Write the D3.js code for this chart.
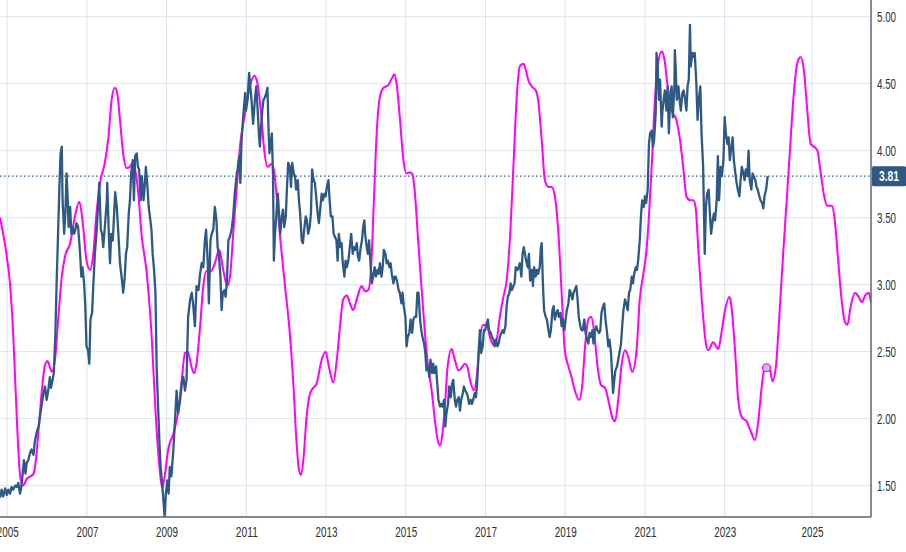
<!DOCTYPE html>
<html>
<head>
<meta charset="utf-8">
<script src="https://cdn.jsdelivr.net/npm/d3@7/dist/d3.min.js"></script>
<style>
  html, body { margin: 0; padding: 0; background: #ffffff; }
  svg { display: block; }
  .lbl { font-family: "Liberation Sans", Arial, sans-serif; font-size: 14.5px; fill: #2f2f2f; }
</style>
</head>
<body>
<svg id="chart" width="906" height="552"></svg>
<script>
// ---------------- DATA ----------------
const yearTicks = [2005, 2007, 2009, 2011, 2013, 2015, 2017, 2019, 2021, 2023, 2025];
const priceTicks = [1.5, 2.0, 2.5, 3.0, 3.5, 4.0, 4.5, 5.0];

const blueDates = [
2004.82,2004.86,2004.90,2004.95,2004.99,2005.03,2005.07,2005.11,2005.15,2005.20,2005.24,2005.28,2005.32,2005.35,2005.39,2005.42,2005.46,2005.49,2005.53,2005.57,2005.61,2005.66,2005.69,2005.72,2005.76,2005.79,2005.82,2005.87,2005.91,2005.95,2005.99,2006.03,2006.07,2006.10,2006.14,2006.17,2006.21,2006.24,2006.27,2006.31,2006.34,2006.37,2006.39,2006.43,2006.46,2006.49,2006.52,2006.54,2006.58,2006.61,2006.64,2006.68,2006.71,2006.74,2006.78,2006.83,2006.86,2006.89,2006.93,2006.96,2006.99,2007.03,2007.06,2007.09,2007.13,2007.16,2007.20,2007.24,2007.28,2007.31,2007.35,2007.38,2007.41,2007.45,2007.50,2007.51,2007.55,2007.58,2007.61,2007.65,2007.68,2007.71,2007.75,2007.79,2007.83,2007.87,2007.91,2007.95,2007.98,2008.01,2008.05,2008.08,2008.11,2008.15,2008.18,2008.21,2008.25,2008.28,2008.31,2008.35,2008.38,2008.42,2008.45,2008.48,2008.52,2008.55,2008.58,2008.62,2008.65,2008.68,2008.72,2008.75,2008.78,2008.82,2008.85,2008.88,2008.92,2008.95,2008.98,2009.02,2009.05,2009.08,2009.12,2009.15,2009.18,
2009.25,2009.29,2009.34,2009.38,2009.42,2009.46,2009.50,2009.54,2009.59,2009.63,2009.67,2009.71,2009.75,2009.80,2009.84,2009.88,2009.92,2009.96,2009.99,2010.03,2010.06,2010.10,2010.13,2010.17,2010.21,2010.25,2010.28,2010.31,2010.35,2010.38,2010.41,2010.45,2010.48,2010.51,2010.55,2010.59,2010.63,2010.67,2010.71,2010.76,2010.78,2010.82,2010.85,2010.88,2010.92,2010.97,2010.99,2011.03,2011.07,2011.10,2011.13,2011.17,2011.19,2011.22,2011.25,2011.28,2011.32,2011.34,2011.37,2011.40,2011.43,2011.47,2011.50,2011.53,2011.56,2011.58,2011.62,2011.64,2011.67,2011.69,2011.72,2011.75,2011.79,2011.82,2011.85,2011.89,2011.92,2011.95,2011.99,2012.02,2012.05,2012.09,2012.12,2012.15,2012.19,2012.22,2012.25,2012.29,2012.32,2012.35,2012.39,2012.42,2012.45,2012.49,2012.52,2012.55,2012.59,2012.62,2012.65,2012.69,2012.72,2012.76,2012.79,2012.82,2012.86,2012.89,2012.92,2012.96,2012.99,2013.02,2013.06,2013.09,2013.12,2013.16,2013.19,2013.22,2013.26,2013.29,2013.32,2013.36,2013.39,2013.42,2013.46,2013.49,2013.52,2013.56,
2013.63,2013.67,2013.70,2013.73,2013.77,2013.80,2013.83,2013.87,2013.90,2013.93,2013.96,2013.98,2014.02,2014.05,2014.08,2014.12,2014.15,2014.19,2014.22,2014.25,2014.29,2014.32,2014.35,2014.39,2014.42,2014.45,2014.49,2014.52,2014.55,2014.59,2014.62,2014.65,2014.69,2014.72,2014.75,2014.79,2014.82,2014.85,2014.89,2014.92,2014.95,2014.99,2015.02,2015.05,2015.09,2015.12,2015.16,2015.19,2015.22,2015.26,2015.29,2015.32,2015.36,2015.39,2015.42,2015.46,2015.49,2015.52,2015.56,2015.59,2015.62,2015.66,2015.69,2015.72,2015.76,2015.79,2015.82,2015.86,2015.89,2015.92,2015.96,2015.99,2016.02,2016.06,2016.09,2016.13,2016.16,2016.19,2016.23,2016.26,2016.29,2016.33,2016.36,2016.39,2016.43,2016.46,2016.49,2016.53,2016.56,2016.59,2016.63,2016.66,2016.69,2016.73,2016.76,2016.79,2016.83,2016.86,2016.89,2016.93,2016.96,2016.99,2017.03,2017.06,2017.09,2017.13,2017.16,2017.20,2017.23,2017.26,2017.30,2017.33,2017.36,2017.40,2017.43,2017.46,2017.50,2017.53,2017.56,2017.60,2017.63,2017.66,2017.70,2017.73,2017.76,2017.80,2017.83,2017.86,2017.90,2017.93,2017.96,
2018.02,2018.06,2018.09,2018.12,2018.16,2018.19,2018.22,2018.26,2018.29,2018.32,2018.36,2018.39,2018.41,2018.44,2018.47,2018.51,2018.54,2018.58,2018.61,2018.64,2018.68,2018.71,2018.74,2018.78,2018.81,2018.84,2018.88,2018.91,2018.94,2018.98,2019.01,2019.04,2019.08,2019.11,2019.14,2019.18,2019.21,2019.24,2019.28,2019.31,2019.34,2019.38,2019.41,2019.44,2019.48,2019.51,2019.55,2019.58,2019.61,2019.65,2019.68,2019.71,2019.75,2019.78,2019.81,2019.85,2019.88,2019.91,2019.95,2019.98,2020.01,2020.05,2020.08,2020.11,2020.15,2020.18,2020.20,2020.23,2020.26,2020.30,2020.33,2020.36,2020.40,2020.43,2020.46,2020.50,2020.53,2020.57,2020.60,2020.63,2020.67,2020.70,2020.73,2020.77,2020.80,2020.83,2020.87,2020.90,2020.93,2020.97,2021.00,2021.03,2021.07,2021.10,2021.13,2021.17,2021.20,2021.23,2021.27,2021.29,2021.32,2021.35,2021.38,2021.42,2021.44,2021.47,2021.50,2021.54,2021.57,2021.60,2021.64,2021.67,2021.70,2021.74,2021.75,2021.77,2021.80,2021.84,2021.87,2021.90,2021.94,2021.97,2022.00,2022.04,2022.07,2022.10,2022.13,2022.15,2022.19,2022.22,2022.25,2022.29,2022.32,2022.35,2022.39,2022.42,2022.46,
2022.50,2022.53,2022.56,2022.60,2022.63,2022.66,2022.70,2022.73,2022.76,2022.80,2022.83,2022.86,2022.90,2022.93,2022.97,2023.00,2023.03,2023.07,2023.10,2023.13,2023.17,2023.20,2023.23,2023.27,2023.30,2023.33,2023.37,2023.40,2023.43,2023.47,2023.50,2023.53,2023.57,2023.60,2023.63,2023.67,2023.70,2023.73,2023.77,2023.80,2023.83,2023.87,2023.90,2023.94,2023.97,2024.00,2024.04,2024.08
];
const blueValues = [
1.41,1.47,1.42,1.48,1.43,1.47,1.44,1.49,1.47,1.50,1.49,1.52,1.44,1.48,1.59,1.69,1.59,1.67,1.69,1.74,1.77,1.73,1.82,1.87,1.92,1.94,2.01,2.11,2.19,2.24,2.14,2.21,2.31,2.23,2.29,2.34,2.64,3.01,3.31,3.73,3.98,4.03,3.63,3.38,3.53,3.83,3.63,3.43,3.58,3.38,3.43,3.38,3.41,3.46,3.43,3.23,3.06,3.13,3.01,2.84,2.54,2.51,2.41,2.74,2.79,2.99,3.23,3.38,3.58,3.76,3.41,3.38,3.28,3.43,3.63,3.76,3.38,3.16,3.38,3.33,3.51,3.69,3.58,3.38,3.16,3.06,2.94,3.06,3.23,3.28,3.53,3.63,3.83,3.93,3.63,3.96,3.98,3.88,3.86,3.63,3.81,3.63,3.73,3.88,3.73,3.58,3.51,3.41,3.23,3.13,2.94,2.39,2.14,1.82,1.64,1.54,1.39,1.27,1.44,1.54,1.44,1.64,1.57,1.69,1.82,
2.21,2.04,2.14,2.26,2.31,2.21,2.29,2.76,2.89,2.94,2.84,2.69,2.99,2.96,3.08,3.16,3.13,3.33,3.41,3.18,2.86,3.33,3.38,3.41,3.58,3.48,3.28,3.23,3.06,2.81,2.94,2.96,2.91,3.01,3.33,3.36,3.41,3.51,3.68,3.83,3.86,3.96,3.76,4.08,4.25,4.43,4.30,4.38,4.58,4.48,4.38,4.20,4.28,4.40,4.48,4.33,4.10,4.03,4.18,4.30,4.38,4.40,4.43,4.47,4.13,3.98,4.08,4.13,3.81,3.18,3.38,3.51,3.68,3.53,3.38,3.51,3.56,3.43,3.51,3.73,3.91,3.88,3.73,3.91,3.83,3.81,3.71,3.78,3.63,3.53,3.33,3.31,3.41,3.51,3.48,3.38,3.43,3.53,3.86,3.78,3.76,3.63,3.53,3.46,3.58,3.68,3.63,3.68,3.66,3.73,3.78,3.63,3.51,3.51,3.38,3.36,3.33,3.18,3.38,3.28,3.31,3.16,3.06,3.18,3.13,3.18,
3.38,3.23,3.28,3.26,3.31,3.21,3.18,3.28,3.33,3.43,3.48,3.38,3.28,3.23,3.33,3.13,3.01,3.08,3.13,3.06,3.11,3.08,3.16,3.06,3.13,3.26,3.23,3.16,3.18,3.13,3.16,3.08,3.01,3.06,3.06,3.01,2.96,2.94,2.86,2.94,2.84,2.76,2.54,2.61,2.64,2.74,2.64,2.74,2.76,2.76,2.94,2.94,2.74,2.66,2.61,2.56,2.49,2.36,2.39,2.31,2.44,2.34,2.41,2.34,2.39,2.26,2.14,2.09,2.11,2.09,2.14,1.94,2.04,2.11,2.24,2.16,2.26,2.29,2.14,2.09,2.14,2.16,2.06,2.14,2.19,2.24,2.21,2.19,2.16,2.11,2.14,2.11,2.14,2.19,2.16,2.26,2.51,2.66,2.49,2.54,2.66,2.66,2.71,2.74,2.66,2.64,2.61,2.59,2.54,2.59,2.54,2.56,2.61,2.64,2.66,2.64,2.69,2.84,2.91,2.94,3.01,2.96,2.99,3.01,3.13,3.11,3.13,3.16,3.06,3.23,3.28,
3.18,3.13,3.23,3.03,3.11,2.99,3.13,3.06,3.11,3.08,3.13,3.28,3.31,3.01,2.81,2.76,2.74,2.66,2.61,2.66,2.81,2.84,2.74,2.79,2.81,2.76,2.79,2.69,2.74,2.66,2.74,2.81,2.86,2.96,2.94,2.89,2.94,2.96,2.99,2.89,2.76,2.69,2.66,2.66,2.74,2.64,2.59,2.56,2.64,2.61,2.66,2.56,2.66,2.69,2.66,2.64,2.66,2.79,2.84,2.86,2.74,2.64,2.54,2.59,2.49,2.31,2.19,2.29,2.36,2.39,2.44,2.49,2.56,2.69,2.81,2.89,2.86,2.81,2.94,2.96,3.06,3.01,3.08,3.13,3.11,3.18,3.33,3.51,3.63,3.58,3.66,3.61,3.71,4.05,4.13,4.15,4.03,4.08,4.28,4.73,4.63,4.38,4.53,4.18,4.30,4.38,4.45,4.30,4.48,4.13,4.43,4.48,4.25,4.48,4.75,4.63,4.38,4.48,4.38,4.30,4.43,4.45,4.40,4.30,4.48,4.53,4.94,4.63,4.73,4.70,4.73,4.50,4.23,4.38,4.48,4.13,3.88,
3.23,3.58,3.68,3.71,3.53,3.38,3.48,3.53,3.48,3.63,3.96,3.63,3.88,3.81,3.93,4.25,4.13,4.05,4.10,3.93,4.03,4.10,3.93,3.83,3.76,3.71,3.66,3.78,3.88,3.83,3.78,3.86,3.81,4.00,3.78,3.71,3.83,3.81,3.78,3.73,3.71,3.66,3.63,3.61,3.57,3.66,3.71,3.81
];

const magentaDates = [
2004.82,2004.99,2005.07,2005.15,2005.24,2005.32,2005.39,2005.49,2005.66,2005.72,2005.78,2005.87,2005.95,2006.01,2006.12,2006.20,2006.28,2006.37,2006.45,2006.58,2006.70,2006.81,2006.89,2006.99,2007.08,2007.16,2007.24,2007.33,2007.45,2007.54,2007.62,2007.70,2007.76,2007.83,2007.91,2008.00,2008.08,2008.15,2008.21,2008.29,2008.37,2008.50,2008.62,2008.73,2008.82,2008.89,2008.96,2009.04,2009.17,2009.29,
2009.38,2009.46,2009.53,2009.63,2009.69,2009.75,2009.84,2009.92,2010.00,2010.11,2010.21,2010.32,2010.42,2010.52,2010.59,2010.67,2010.76,2010.84,2010.97,2011.09,2011.20,2011.28,2011.37,2011.45,2011.53,2011.63,2011.69,2011.76,2011.84,2011.97,2012.09,2012.18,2012.26,2012.32,2012.37,2012.43,2012.51,2012.60,2012.68,2012.76,2012.89,2012.99,2013.07,2013.18,2013.27,2013.35,2013.43,2013.52,2013.60,
2013.68,2013.77,2013.89,2013.98,2014.06,2014.14,2014.20,2014.27,2014.35,2014.44,2014.56,2014.65,2014.71,2014.77,2014.85,2014.94,2015.02,2015.10,2015.17,2015.23,2015.31,2015.40,2015.48,2015.56,2015.65,2015.73,2015.80,2015.86,2015.92,2015.98,2016.05,2016.15,2016.23,2016.32,2016.40,2016.48,2016.54,2016.61,2016.71,2016.79,2016.86,2016.94,2017.03,2017.11,2017.20,2017.28,2017.36,2017.45,2017.53,2017.61,2017.70,2017.78,2017.86,2017.95,2018.03,
2018.07,2018.16,2018.26,2018.32,2018.41,2018.49,2018.58,2018.66,2018.74,2018.83,2018.91,2018.99,2019.08,2019.16,2019.24,2019.35,2019.43,2019.49,2019.58,2019.65,2019.73,2019.81,2019.90,2020.00,2020.08,2020.18,2020.25,2020.33,2020.41,2020.50,2020.58,2020.68,2020.79,2020.87,2020.96,2021.04,2021.10,2021.17,2021.25,2021.33,2021.42,2021.49,2021.57,2021.67,2021.79,2021.88,2021.96,2022.04,2022.13,2022.21,2022.27,2022.34,
2022.46,2022.53,2022.59,2022.71,2022.84,2022.92,2023.01,2023.12,2023.17,2023.26,2023.34,2023.43,2023.55,2023.65,2023.76,2023.84,2023.93,2024.01,2024.05,2024.13,2024.18,2024.25,2024.32,2024.40,2024.47,2024.54,2024.61,2024.69,2024.76,2024.83,2024.90,2024.97,2025.04,2025.11,2025.18,2025.25,2025.31,2025.41,2025.47,2025.54,2025.61,2025.68,2025.73,2025.80,2025.89,2025.96,2026.03,2026.10,2026.17,2026.22
];
const magentaValues = [
3.50,3.21,3.01,2.64,2.01,1.59,1.50,1.55,1.59,1.69,1.89,2.21,2.40,2.43,2.35,2.44,2.74,3.06,3.21,3.31,3.51,3.62,3.48,3.18,3.11,3.23,3.53,3.76,3.91,4.10,4.38,4.47,4.43,4.23,3.98,3.87,3.88,3.91,3.86,3.68,3.38,3.09,2.64,2.01,1.64,1.48,1.59,1.77,1.89,2.05,
2.29,2.49,2.50,2.38,2.34,2.41,2.69,2.99,3.10,3.10,3.16,3.26,3.11,2.99,3.06,3.38,3.73,4.03,4.28,4.48,4.56,4.50,4.28,4.00,3.88,3.90,3.86,3.66,3.38,2.99,2.64,2.26,1.82,1.62,1.58,1.69,2.01,2.19,2.23,2.26,2.44,2.50,2.39,2.27,2.44,2.69,2.89,2.92,2.86,
2.81,2.89,2.99,2.95,2.96,3.18,3.63,4.13,4.40,4.47,4.49,4.54,4.57,4.50,4.25,3.93,3.83,3.84,3.82,3.68,3.33,2.96,2.64,2.39,2.21,1.99,1.84,1.80,1.89,2.09,2.39,2.52,2.44,2.36,2.38,2.41,2.39,2.29,2.21,2.34,2.59,2.70,2.70,2.61,2.55,2.59,2.76,2.91,3.03,3.33,3.88,4.38,4.63,4.65,4.58,
4.53,4.48,4.45,4.38,4.08,3.78,3.73,3.73,3.66,3.38,2.94,2.51,2.39,2.31,2.21,2.14,2.26,2.51,2.74,2.76,2.64,2.39,2.25,2.23,2.14,2.01,1.98,2.14,2.39,2.51,2.46,2.35,2.51,2.89,3.08,3.26,3.51,3.88,4.38,4.65,4.74,4.68,4.48,4.30,4.23,4.08,3.88,3.66,3.63,3.63,3.58,3.26,
2.76,2.56,2.51,2.57,2.52,2.64,2.81,2.91,2.84,2.51,2.14,2.01,1.98,1.91,1.84,1.97,2.24,2.39,2.38,2.36,2.28,2.39,2.76,3.23,3.61,4.00,4.38,4.65,4.70,4.60,4.30,4.05,4.03,4.00,3.83,3.66,3.59,3.59,3.48,3.18,2.89,2.72,2.70,2.84,2.94,2.91,2.87,2.92,2.94,2.87
];

const markerDate = 2024.05;
const markerValue = 2.38;
const domainStart = 2004.82;
const domainEnd = 2026.22;
const valueMin = 1.266;
const valueMax = 5.125;

// ---------------- CHART ----------------
const svg = d3.select("#chart");
const W = 906, H = 552;
const plotRight = 871, plotBottom = 517;
const lastDate = blueDates[blueDates.length - 1];
const lastValue = blueValues[blueValues.length - 1];

const x = d3.scaleLinear()
  .domain([domainStart, lastDate, domainEnd])
  .range([0, 767.7, plotRight]);
const y = d3.scaleLinear().domain([valueMin, valueMax]).range([plotBottom, 0]);

svg.append("rect").attr("width", W).attr("height", H).attr("fill", "#ffffff");

svg.append("defs").append("clipPath").attr("id", "plotclip")
  .append("rect").attr("x", 0).attr("y", 0).attr("width", plotRight).attr("height", plotBottom);

// grid
const grid = svg.append("g");
grid.selectAll("line.v").data(yearTicks).join("line")
  .attr("x1", d => x(d)).attr("x2", d => x(d))
  .attr("y1", 0).attr("y2", plotBottom)
  .attr("stroke", "#d9e4f0").attr("stroke-width", 1);
grid.selectAll("line.h").data(priceTicks).join("line")
  .attr("x1", 0).attr("x2", plotRight)
  .attr("y1", d => y(d)).attr("y2", d => y(d))
  .attr("stroke", "#d9e4f0").attr("stroke-width", 1);

// last value dotted line
svg.append("line")
  .attr("x1", 0).attr("x2", plotRight)
  .attr("y1", y(lastValue)).attr("y2", y(lastValue))
  .attr("stroke", "#2e5984").attr("stroke-width", 1.2)
  .attr("stroke-dasharray", "1.5,2.5");

const plot = svg.append("g").attr("clip-path", "url(#plotclip)");

const blueData = blueDates.map((d, i) => ({ t: d, v: blueValues[i] }));
const magData = magentaDates.map((d, i) => ({ t: d, v: magentaValues[i] }));

plot.append("path").datum(magData)
  .attr("fill", "none").attr("stroke", "#ff00ff").attr("stroke-width", 2)
  .attr("stroke-linejoin", "round")
  .attr("d", d3.line().x(d => x(d.t)).y(d => y(d.v)).curve(d3.curveMonotoneX));

plot.append("path").datum(blueData)
  .attr("fill", "none").attr("stroke", "#2e5984").attr("stroke-width", 2.3)
  .attr("stroke-linejoin", "round")
  .attr("d", d3.line().x(d => x(d.t)).y(d => y(d.v)));

plot.append("circle")
  .attr("cx", x(markerDate)).attr("cy", y(markerValue)).attr("r", 4)
  .attr("fill", "#b4c6dc").attr("stroke", "#ff00ff").attr("stroke-width", 1.2);

// axes lines
svg.append("line").attr("x1", 0).attr("x2", plotRight).attr("y1", plotBottom).attr("y2", plotBottom)
  .attr("stroke", "#5f6270").attr("stroke-width", 1.5);
svg.append("line").attr("x1", plotRight).attr("x2", plotRight).attr("y1", 0).attr("y2", plotBottom)
  .attr("stroke", "#5f6270").attr("stroke-width", 1.5);

// bottom axis labels
const xAxis = d3.axisBottom(x).tickValues(yearTicks).tickFormat(d3.format("d")).tickSize(0).tickPadding(10);
const gx = svg.append("g").attr("transform", `translate(0,${plotBottom})`).call(xAxis);
gx.select(".domain").remove();
gx.selectAll("text").attr("class", "lbl").attr("font-family", null).attr("font-size", null).attr("fill", null)
  .attr("textLength", 22).attr("lengthAdjust", "spacingAndGlyphs");

// right axis labels
const yAxis = d3.axisRight(y).tickValues(priceTicks).tickFormat(d3.format(".2f")).tickSize(0).tickPadding(6);
const gy = svg.append("g").attr("transform", `translate(${plotRight},0)`).call(yAxis);
gy.select(".domain").remove();
gy.selectAll("text").attr("class", "lbl").attr("font-family", null).attr("font-size", null).attr("fill", null)
  .attr("textLength", 19).attr("lengthAdjust", "spacingAndGlyphs");

// last value tag
const tagY = y(lastValue);
svg.append("rect").attr("x", plotRight + 1).attr("y", tagY - 10).attr("width", 34).attr("height", 20)
  .attr("rx", 1.5).attr("fill", "#2e5984");
svg.append("text").attr("x", plotRight + 18).attr("y", tagY).attr("dy", "0.36em")
  .attr("text-anchor", "middle").attr("class", "lbl")
  .attr("textLength", 20).attr("lengthAdjust", "spacingAndGlyphs")
  .style("fill", "#ffffff").style("font-weight", "bold")
  .text(d3.format(".2f")(lastValue));
</script>
</body>
</html>
